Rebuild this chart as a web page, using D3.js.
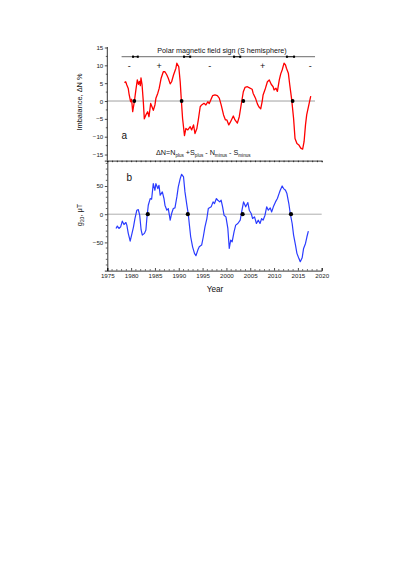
<!DOCTYPE html>
<html><head><meta charset="utf-8">
<script src="https://cdn.jsdelivr.net/npm/d3@7"></script>
<style>body{margin:0;background:#fff}svg{display:block}text{font-family:"Liberation Sans",Arial,sans-serif}</style>
</head><body>
<svg id="c" width="399" height="564"></svg>
<script>
// ---- data ----
const imbYears = [1978.58,1978.86,1979.1,1979.4,1979.55,1979.76,1979.9,1980.1,1980.33,1980.67,1981.0,1981.3,1981.55,1981.75,1981.93,1982.07,1982.3,1982.56,1982.77,1983.1,1983.47,1983.75,1984.1,1984.38,1984.66,1985.0,1985.2,1985.6,1985.9,1986.3,1986.75,1987.1,1987.5,1987.8,1988.2,1988.5,1988.9,1989.4,1989.6,1990.0,1990.3,1990.55,1990.8,1991.2,1991.5,1991.9,1992.4,1992.7,1993.1,1993.4,1993.8,1994.1,1994.5,1994.8,1995.3,1995.7,1996.1,1996.4,1996.8,1997.1,1997.6,1998.1,1998.5,1998.9,1999.4,1999.8,2000.1,2000.5,2000.8,2001.2,2001.45,2001.8,2002.3,2002.7,2003.2,2003.55,2003.9,2004.4,2004.95,2005.4,2005.6,2006.1,2006.5,2006.8,2007.2,2007.5,2007.7,2008.2,2008.6,2009.0,2009.4,2009.8,2010.0,2010.4,2010.7,2011.1,2011.4,2011.7,2012.1,2012.4,2012.6,2013.0,2013.3,2013.7,2014.1,2014.4,2014.8,2015.2,2015.6,2016.0,2016.3,2016.6,2016.85,2017.3,2017.7];
const imbValues = [5.2,5.4,4.5,3.5,2.1,0.7,-0.2,0.5,-3.0,-0.2,3.1,5.9,4.7,5.5,4.3,6.5,4.5,-0.2,-5.0,-3.9,-3.0,-4.4,-0.7,-1.6,-2.6,-1.1,0.75,2.2,3.6,6.4,8.2,8.2,7.3,6.4,4.8,5.4,7.3,9.2,10.6,9.6,5.4,0,-4.9,-9.7,-7.7,-8.1,-7.2,-8.1,-6.7,-9.1,-7.7,-5.3,-1.6,-1.1,-0.65,-1.1,-0.2,-0.7,0.56,1.5,1.7,1.5,0.8,-1.1,-3.9,-5.3,-5.3,-6.7,-6.0,-4.9,-4.2,-5.3,-6.2,-4.4,-0.2,2.6,3.8,4.0,3.6,3.3,2.2,0.8,-0.8,-1.6,-2.2,-0.2,1.7,3.6,5.4,5.9,4.7,4.0,3.1,3.6,2.7,5.9,7.6,8.7,10.6,10.1,9.2,7.8,4.5,0.4,-4.9,-10.5,-11.9,-12.3,-13.2,-13.5,-11.4,-6.7,-3.9,-1.1,1.4];
const imbZeroYears = [1980.67,1990.6,2003.55,2013.9];

const g20Years = [1976.83,1977.1,1977.45,1977.8,1978.15,1978.5,1978.9,1979.1,1979.4,1979.8,1980.1,1980.5,1980.8,1981.2,1981.5,1981.8,1982.1,1982.35,1982.8,1983.1,1983.3,1983.6,1984.0,1984.3,1984.65,1985.0,1985.2,1985.6,1985.85,1986.1,1986.55,1986.9,1987.1,1987.5,1987.8,1988.2,1988.5,1988.85,1989.2,1989.6,1989.9,1990.3,1990.6,1991.0,1991.3,1991.7,1992.0,1992.2,1992.5,1992.9,1993.3,1993.6,1994.0,1994.3,1994.8,1995.15,1995.5,1995.9,1996.2,1996.8,1997.2,1997.5,1997.9,1998.2,1998.6,1998.9,1999.2,1999.5,1999.9,2000.3,2000.6,2000.9,2001.2,2001.6,2001.95,2002.4,2002.9,2003.2,2003.6,2004.05,2004.5,2004.8,2005.2,2005.5,2005.9,2006.3,2006.7,2007.05,2007.4,2007.7,2008.1,2008.45,2008.8,2009.2,2009.5,2009.85,2010.3,2010.7,2011.05,2011.3,2011.7,2012.0,2012.4,2012.7,2013.1,2013.4,2013.8,2014.1,2014.5,2014.8,2015.2,2015.5,2015.9,2016.2,2016.6,2016.9,2017.2];
const g20Values = [-25.3,-21.2,-25.3,-22.4,-12.4,-18.3,-14.8,-19.4,-34,-47.7,-37,-22.4,-7.7,7.1,8.2,-1.8,-28,-37,-34,-28,-7.7,15.9,27.7,26.5,54.2,42.4,54.2,45.4,51.2,33.6,39.5,27.7,16,7.1,10,-10.6,1.2,10,11.2,30.6,48.3,63,70.7,66,39.5,16,0,-16.5,-40,-57.8,-69.4,-73.6,-63.6,-57.8,-54.8,-40,-22.4,-7.7,10,13,21.8,18.9,27.7,24.7,21.8,24.7,13,-1.8,-4.7,-25.3,-60.7,-46,-48.9,-31.2,-19.4,-16.5,-10.6,4,21.8,13,20.7,7.1,1.2,-7.7,-4.7,-16.5,-10.6,-16.5,-7.7,-10.6,-1.8,13,7.1,11.2,4,13,21.8,27.7,36.5,42.4,50,45.4,42.4,36.5,18.9,1.2,-16.5,-37,-54.8,-69.4,-78.3,-84.2,-77.2,-60.7,-51.9,-40,-30];
const g20ZeroYears = [1983.5,1991.9,2003.4,2013.55];

const signLabels = ["-","+","-","+","-"];
const signYears = [1979.6,1985.9,1996.5,2007.6,2017.6];
const reversalStart = [1980.4,1991.1,2001.6,2012.7];
const reversalEnd = [1981.4,1992.4,2002.9,2014.2];

const xTicks = [1975,1980,1985,1990,1995,2000,2005,2010,2015,2020];
const aTicks = [-15,-10,-5,0,5,10,15];
const bTicks = [-50,0,50];

// ---- scales ----
const svg = d3.select("#c");
const x = d3.scaleLinear().domain([1975,2020]).range([107.3,321.7]);
const ya = d3.scaleLinear().domain([-16.7,15]).range([160.6,47.5]);
const yb = d3.scaleLinear().domain([-100,95]).range([270.6,160.6]);
const font = '"Liberation Sans",Arial,sans-serif';

function styleAxis(g){
  g.selectAll("path.domain").attr("stroke","#000").attr("stroke-width",0.8);
  g.selectAll(".tick line").attr("stroke","#000").attr("stroke-width",0.7);
  g.selectAll("text").attr("font-family",font).attr("font-size",6.2).attr("fill","#222");
}

// zero lines
svg.append("line").attr("x1",x(1975)).attr("x2",315).attr("y1",ya(0)).attr("y2",ya(0)).attr("stroke","#888").attr("stroke-width",0.8);
svg.append("line").attr("x1",x(1975)).attr("x2",x(2020)).attr("y1",yb(0)).attr("y2",yb(0)).attr("stroke","#999").attr("stroke-width",0.8);

// top sign line
const topY = 56.7;
svg.append("line").attr("x1",x(1978.0)).attr("x2",x(2018.6)).attr("y1",topY).attr("y2",topY).attr("stroke","#888").attr("stroke-width",1.2);
reversalStart.forEach((s,i)=>{
  const e = reversalEnd[i];
  svg.append("line").attr("x1",x(s)).attr("x2",x(e)).attr("y1",topY).attr("y2",topY).attr("stroke","#222").attr("stroke-width",1.0);
  [s,e].forEach(v=>svg.append("rect").attr("x",x(v)-1).attr("y",topY-1.1).attr("width",2).attr("height",2.2).attr("fill","#000"));
});
svg.append("text").attr("x",222).attr("y",53.3).attr("text-anchor","middle").attr("font-size",7.2).attr("fill","#111").text("Polar magnetic field sign (S hemisphere)");
signLabels.forEach((s,i)=>{
  svg.append("text").attr("x",x(signYears[i])).attr("y",69).attr("text-anchor","middle").attr("font-size",9).attr("fill","#111").text(s);
});

// axes panel a
const axA = svg.append("g").attr("transform",`translate(${x(1975)},0)`)
  .call(d3.axisLeft(ya).tickValues(aTicks).tickSize(2.5).tickPadding(1.5).tickFormat(d3.format("d")));
styleAxis(axA);
axA.select("path.domain").attr("d",`M0,${ya(15)-0.5}V${ya(-16.7)}`);
const minorA = d3.range(-12.5,15,5);
axA.selectAll(".mn").data(minorA).enter().append("line").attr("x1",-1.5).attr("x2",0).attr("y1",d=>ya(d)).attr("y2",d=>ya(d)).attr("stroke","#000").attr("stroke-width",0.6);

const axAB = svg.append("g").attr("transform",`translate(0,${ya(-16.7)})`)
  .call(d3.axisBottom(x).ticks(45).tickSize(1.6).tickFormat(""));
styleAxis(axAB);

// axes panel b
const axB = svg.append("g").attr("transform",`translate(${x(1975)},0)`)
  .call(d3.axisLeft(yb).tickValues(bTicks).tickSize(2.5).tickPadding(1.5).tickFormat(d3.format("d")));
styleAxis(axB);
const minorB = d3.range(-90,95,10).filter(v=>v%50!==0);
axB.selectAll(".mn").data(minorB).enter().append("line").attr("x1",-1.5).attr("x2",0).attr("y1",d=>yb(d)).attr("y2",d=>yb(d)).attr("stroke","#000").attr("stroke-width",0.6);

const axX = svg.append("g").attr("transform",`translate(0,${yb(-100)})`)
  .call(d3.axisBottom(x).tickValues(xTicks).tickSize(-2.6).tickPadding(3.5).tickFormat(d3.format("d")));
styleAxis(axX);
const minorX = d3.range(1976,2020,1).filter(v=>v%5!==0);
axX.selectAll(".mn").data(minorX).enter().append("line").attr("x1",d=>x(d)).attr("x2",d=>x(d)).attr("y1",0).attr("y2",-1.5).attr("stroke","#000").attr("stroke-width",0.6);

// curves
const lineA = d3.line().x((d,i)=>x(imbYears[i])).y(d=>ya(d)).curve(d3.curveLinear);
svg.append("path").attr("d",lineA(imbValues)).attr("fill","none").attr("stroke","#ff0000").attr("stroke-width",1.3).attr("stroke-linejoin","round");
const lineB = d3.line().x((d,i)=>x(g20Years[i])).y(d=>yb(d));
svg.append("path").attr("d",lineB(g20Values)).attr("fill","none").attr("stroke","#2b3cff").attr("stroke-width",1.2).attr("stroke-linejoin","round");

svg.selectAll(".za").data(imbZeroYears).enter().append("circle").attr("cx",d=>x(d)).attr("cy",ya(0)).attr("r",1.9).attr("fill","#000");
svg.selectAll(".zb").data(g20ZeroYears).enter().append("circle").attr("cx",d=>x(d)).attr("cy",yb(0)).attr("r",2.1).attr("fill","#000");

// labels
svg.append("text").attr("x",121.5).attr("y",138.5).attr("font-size",10).attr("fill","#111").text("a");
svg.append("text").attr("x",126.5).attr("y",180.5).attr("font-size",10).attr("fill","#111").text("b");

const f = svg.append("text").attr("x",156).attr("y",155).attr("font-size",7.2).attr("fill","#111");
const parts = [["ΔN=N",0],["plus",1],[" +S",0],["plus",1],[" - N",0],["minus",1],[" - S",0],["minus",1]];
parts.forEach(([t,s],i)=>{
  const prev = i>0 ? parts[i-1][1] : 0;
  f.append("tspan").attr("font-size",s?4.6:7.2).attr("dy", s && !prev ? 1.8 : (!s && prev ? -1.8 : 0)).text(t);
});

svg.append("text").attr("x",215).attr("y",292).attr("text-anchor","middle").attr("font-size",8.2).attr("fill","#111").text("Year");

svg.append("text").attr("transform","translate(82,102) rotate(-90)").attr("text-anchor","middle").attr("font-size",7.4).attr("fill","#111").text("Imbalance, ΔN %");
const gl = svg.append("text").attr("transform","translate(82,215) rotate(-90)").attr("text-anchor","middle").attr("font-size",7.4).attr("fill","#111");
gl.append("tspan").text("g");
gl.append("tspan").attr("font-size",4.8).attr("dy",1.8).text("20");
gl.append("tspan").attr("dy",-1.8).text(", μT");
</script>
</body></html>
